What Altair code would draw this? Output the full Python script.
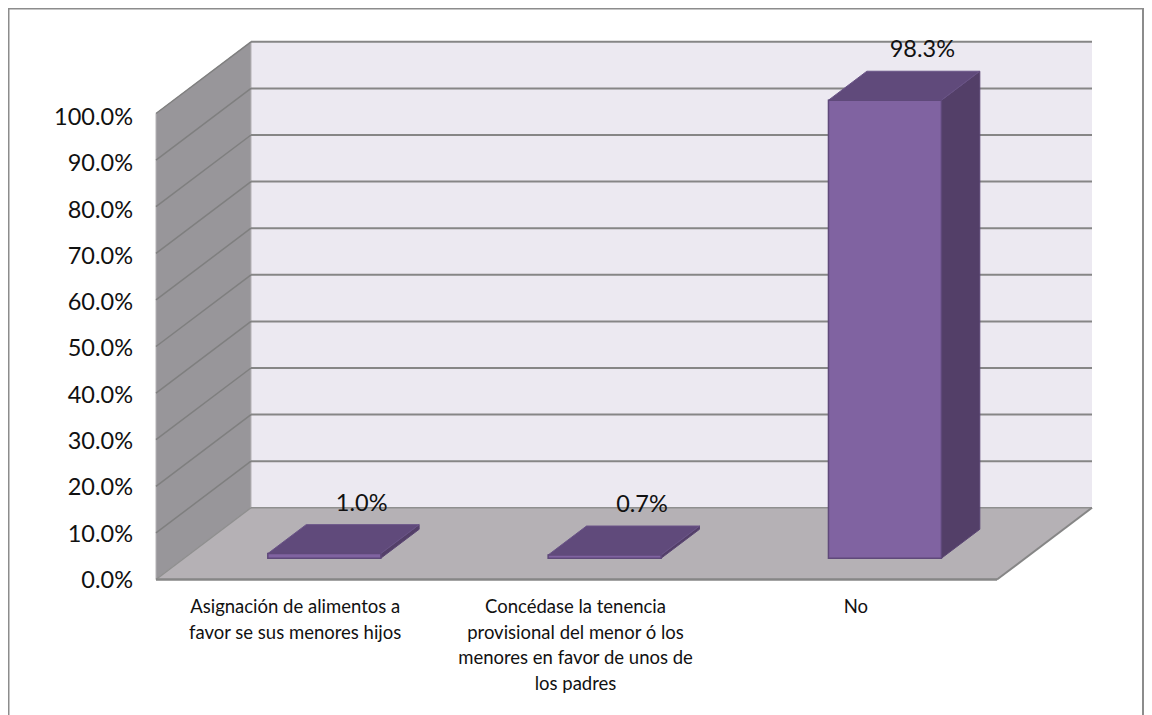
import altair as alt
import pandas as pd

categories = ["Asignación de alimentos a\nfavor se sus menores hijos",
              "Concédase la tenencia\nprovisional del menor ó los\nmenores en favor de unos de\nlos padres",
              "No"]
values = [1.0, 0.7, 98.3]
value_labels = ["1.0%", "0.7%", "98.3%"]
ticks = [0, 10, 20, 30, 40, 50, 60, 70, 80, 90, 100]
tick_labels = ["0.0%", "10.0%", "20.0%", "30.0%", "40.0%", "50.0%", "60.0%", "70.0%", "80.0%", "90.0%", "100.0%"]

# 3-D projection of the chart space onto scale units
DEPTH_U, DEPTH_V = 0.3389, 15.39     # shift of the back plane
BAR_W = 0.403
BAR_D0, BAR_D1 = 0.296, 0.70
N = len(categories)

def P(u, v, d=0.0):
    return u + DEPTH_U * d, v + DEPTH_V * d

W, H = 1136, 707
X = alt.Scale(domain=[-0.52795, 3.5244], nice=False, zero=False)
Y = alt.Scale(domain=[-29.08, 122.64], nice=False, zero=False)
xe = alt.X("x:Q", scale=X, axis=None)
ye = alt.Y("y:Q", scale=Y, axis=None)

def hface(name, u0, u1, v, d0, d1):
    rows = []
    for d in (d0, d1):
        a, y = P(u0, v, d)
        b, _ = P(u1, v, d)
        rows.append({"x": a, "x2": b, "y": y, "f": name})
    return rows

def vface(name, u, v0, v1, d0, d1):
    rows = []
    for d in (d0, d1):
        a, y0 = P(u, v0, d)
        _, y1 = P(u, v1, d)
        rows.append({"x": a, "y": y0, "y2": y1, "f": name})
    return rows

def harea(rows, fill, **kw):
    return alt.Chart(pd.DataFrame(rows)).mark_area(orient="horizontal", fill=fill, **kw).encode(
        x=xe, x2="x2:Q", y=ye, detail="f:N")

def varea(rows, fill, **kw):
    return alt.Chart(pd.DataFrame(rows)).mark_area(orient="vertical", fill=fill, **kw).encode(
        x=xe, y=ye, y2="y2:Q", detail="f:N")

def line(rows, color, width):
    return alt.Chart(pd.DataFrame(rows)).mark_line(color=color, strokeWidth=width).encode(
        x=xe, y=ye, detail="f:N")

GRID = "#868686"
layers = []

# page frame
frame = "#8c8c8c"
one = pd.DataFrame({"a": [0]})
layers.append(alt.Chart(one).mark_rule(color=frame, strokeWidth=2).encode(
    x=alt.value(0.5), y=alt.value(0), y2=alt.value(H)))
layers.append(alt.Chart(one).mark_rule(color=frame, strokeWidth=2).encode(
    x=alt.value(W - 1), y=alt.value(0), y2=alt.value(H)))
layers.append(alt.Chart(one).mark_rule(color=frame, strokeWidth=2).encode(
    x=alt.value(0), x2=alt.value(W), y=alt.value(0.5)))

# back wall
layers.append(varea([{"x": P(0, 0, 1)[0], "y": P(0, 0, 1)[1], "y2": P(0, 100, 1)[1], "f": "b"},
                     {"x": P(N, 0, 1)[0], "y": P(N, 0, 1)[1], "y2": P(N, 100, 1)[1], "f": "b"}], "#ece9f1"))
# left wall
layers.append(varea(vface("l", 0, 0, 100, 0, 1), "#98969a", stroke="#b4b2b5", strokeWidth=1))
# floor
layers.append(harea(hface("fl", 0, N, 0, 0, 1), "#b5b1b5"))

# grid lines
grid_back = pd.DataFrame([{"x": P(0, t, 1)[0], "x2": P(N, t, 1)[0], "y": P(0, t, 1)[1]} for t in ticks if t > 0])
layers.append(alt.Chart(grid_back).mark_rule(color=GRID, strokeWidth=2).encode(x=xe, x2="x2:Q", y=ye))
wall_rows = []
for t in ticks[1:]:
    for d in (0, 1):
        a, b = P(0, t, d)
        wall_rows.append({"x": a, "y": b, "f": str(t)})
layers.append(line(wall_rows, "#7f7f7f", 1.5))

# floor edges
def seg(name, p, q):
    return [{"x": p[0], "y": p[1], "f": name}, {"x": q[0], "y": q[1], "f": name}]
layers.append(line(seg("e1", P(0, 0, 1), P(N, 0, 1)), "#8f8f8f", 1.5))
layers.append(line(seg("e2", P(0, 0, 0), P(0, 0, 1)), "#8f8f8f", 1.5))
layers.append(line(seg("e3", P(N, 0, 0), P(N, 0, 1)), "#868686", 2))
layers.append(line(seg("e4", P(0, 0, 0), P(N, 0, 0)), "#868686", 2.5))

# bars
edge = "#5f497a"
bar_front, bar_top, bar_side, label_rows = [], [], [], []
for i, val in enumerate(values):
    u0 = i + 0.5 - BAR_W / 2
    u1 = i + 0.5 + BAR_W / 2
    bar_front.append({"x": P(u0, 0, BAR_D0)[0], "y": P(u0, 0, BAR_D0)[1],
                      "y2": P(u0, val, BAR_D0)[1], "f": f"bf{i}"})
    bar_front.append({"x": P(u1, 0, BAR_D0)[0], "y": P(u1, 0, BAR_D0)[1],
                      "y2": P(u1, val, BAR_D0)[1], "f": f"bf{i}"})
    bar_top += hface(f"bt{i}", u0, u1, val, BAR_D0, BAR_D1)
    bar_side += vface(f"bs{i}", u1, 0, val, BAR_D0, BAR_D1)
    lx, ly = P(i + 0.5, val, BAR_D1)
    label_rows.append({"x": lx, "y": ly, "t": value_labels[i]})

layers.append(varea(bar_side, "#533f68", stroke="#5a4573", strokeWidth=1))
layers.append(harea(bar_top, "#604a7b", stroke="#6a5487", strokeWidth=1))
layers.append(varea(bar_front, "#8063a1", stroke=edge, strokeWidth=1.5))

font = "Lato"
layers.append(alt.Chart(pd.DataFrame(label_rows)).mark_text(
    font=font, fontSize=23.5, color="#111111", baseline="middle", dy=-21, dx=-1).encode(
    x=xe, y=ye, text="t:N"))

tick_df = pd.DataFrame({"x": [0.0] * len(ticks),
                        "y": [t * 463 / 466 for t in ticks],
                        "t": tick_labels})
layers.append(alt.Chart(tick_df).mark_text(
    font=font, fontSize=23.5, color="#111111", align="right", baseline="middle", dx=-23, dy=1.5).encode(
    x=xe, y=ye, text="t:N"))

cat_df = pd.DataFrame({"x": [i + 0.5 for i in range(N)], "y": [-4.0] * N, "t": categories})
layers.append(alt.Chart(cat_df).mark_text(
    font=font, fontSize=18.5, color="#111111", align="center", baseline="top", dx=-1,
    lineBreak="\n", lineHeight=25.5).encode(x=xe, y=ye, text="t:N"))

chart = alt.layer(*layers).properties(
    width=W, height=H, padding=0, autosize="none", background="white"
).configure_view(strokeWidth=0)

chart.save("out.html", embed_options={"renderer": "svg", "actions": False})
